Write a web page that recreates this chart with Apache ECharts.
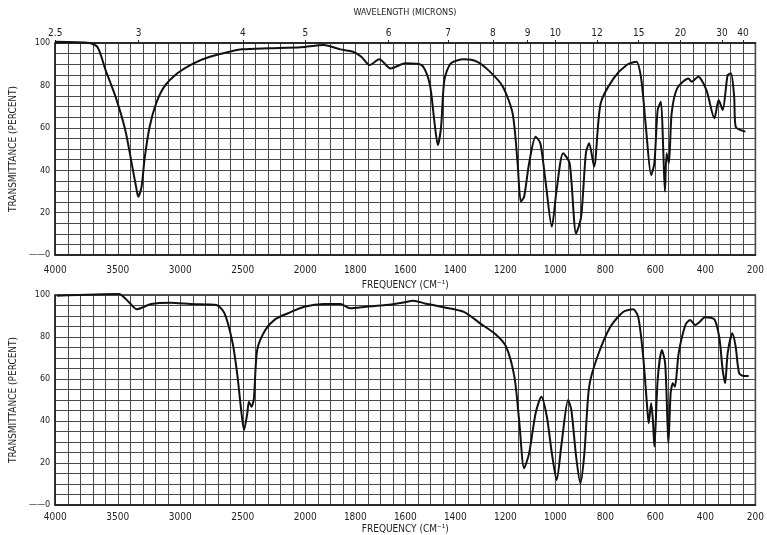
<!DOCTYPE html>
<html>
<head>
<meta charset="utf-8">
<script src="https://cdn.jsdelivr.net/npm/echarts@6/dist/echarts.min.js"></script>
<style>
  html, body { margin: 0; padding: 0; background: #fff; }
  #chart { width: 767px; height: 535px; }
</style>
</head>
<body>
<div id="chart"></div>
<script>
// tick labels
var freqLabels = [4000, 3500, 3000, 2500, 2000, 1800, 1600, 1400, 1200, 1000, 800, 600, 400, 200];
var micronLabels = [2.5, 3, 4, 5, 6, 7, 8, 9, 10, 12, 15, 20, 30, 40];
var percentLabels = [0, 20, 40, 60, 80, 100];

// upper spectrum (frequency cm-1, transmittance %)
var nuTop = [4000, 3727, 3661, 3596, 3518, 3440, 3388, 3349, 3336, 3310,
  3284, 3245, 3193, 3128, 3023, 2893, 2763, 2607, 2503, 2295,
  2034, 1926, 1860, 1809, 1776, 1743, 1704, 1659, 1600, 1535,
  1503, 1483, 1470, 1457, 1444, 1418, 1366, 1314, 1262, 1210,
  1171, 1151, 1138, 1125, 1105, 1079, 1060, 1040, 1014, 995,
  969, 943, 917, 897, 878, 865, 845, 819, 767, 715,
  676, 656, 637, 617, 604, 591, 578, 569, 562, 555,
  546, 535, 513, 468, 455, 429, 396, 364, 347, 331,
  311, 298, 285, 279, 240];
var transTop = [100.6, 100, 98, 87, 74.7, 59, 43, 30.7, 27.5, 32,
  46, 60.5, 71.5, 79.4, 85.7, 90.4, 93.5, 95.9, 97, 97.5,
  98, 99, 97, 95.9, 93.5, 89.6, 92.3, 88, 90.4, 89.6,
  81, 62.1, 51.9, 60.5, 82.5, 90.4, 92.3, 91.2, 86.5, 79.4,
  66.8, 43.3, 25.1, 27.5, 43.3, 55.8, 52.7, 35.4, 13.3, 30.7,
  48, 43.3, 10.2, 18, 48, 52.7, 41.7, 71.5, 83.3, 89.6,
  91.2, 82.5, 59, 37.7, 43.3, 68.4, 72.3, 51, 29.9, 48,
  43.3, 66.8, 78.6, 83.3, 81.7, 84.1, 77.8, 64.5, 73.1, 68.4,
  84.9, 85.7, 74.7, 60.5, 58.2];

// lower spectrum
var nuBot = [3987, 3492, 3414, 3349, 3232, 3076, 2919, 2711, 2646, 2581,
  2542, 2516, 2490, 2464, 2451, 2430, 2411, 2385, 2320, 2242,
  2138, 2008, 1926, 1860, 1821, 1757, 1678, 1613, 1568, 1522,
  1457, 1366, 1301, 1236, 1197, 1164, 1145, 1125, 1105, 1079,
  1056, 1034, 1014, 995, 975, 949, 936, 917, 900, 884,
  865, 832, 780, 728, 689, 669, 650, 633, 627, 617,
  610, 604, 591, 574, 561, 552, 548, 539, 530, 522,
  507, 480, 461, 441, 422, 402, 364, 344, 331, 321,
  311, 292, 279, 265, 246, 227];
var transBot = [99.7, 100.5, 96.8, 93.2, 95.7, 96.3, 95.7, 95.2, 91.3, 77,
  61.1, 46.8, 35.7, 43.7, 49.2, 46.8, 50.8, 73.8, 83.3, 88.4,
  91.3, 94.4, 95.7, 95.7, 93.7, 94.4, 95.2, 96.3, 97.3, 96,
  94.4, 92, 86.5, 81, 75.4, 61.1, 40.5, 17.5, 24.6, 43.7,
  51.6, 42, 24.6, 11.9, 29.4, 50, 45.2, 23, 10.3, 24.6,
  56.3, 70.6, 84.9, 92, 93.2, 89.7, 72.2, 46.8, 38.9, 48.4,
  40.5, 27.8, 59.5, 73.8, 67.5, 40.5, 29.4, 53.2, 58, 56.3,
  72.2, 85.7, 88.1, 85.7, 87.3, 89.4, 88.4, 79.4, 64.3, 58,
  72.2, 81.8, 75.4, 62.7, 61.4, 61.4];

// chart paper: 4000-2000 at one scale, 2000-200 at twice that scale
function nuToU(nu) { return nu >= 2000 ? 4000 - nu : 2000 + 2 * (2000 - nu); }
function uToNu(u) { return u <= 2000 ? 4000 - u : 2000 - (u - 2000) / 2; }

var font = '"DejaVu Sans Condensed", "Liberation Sans Narrow", sans-serif';
var ink = '#1e1e1e';
var gridColor = '#4a4a4a';

function pairs(nus, ts) {
  return nus.map(function (nu, i) { return [nuToU(nu), ts[i]]; });
}

function freqAxis(gridIndex, margin, nameGap) {
  return {
    type: 'value', gridIndex: gridIndex, min: 0, max: 5600, interval: 100,
    name: 'FREQUENCY (CM⁻¹)', nameLocation: 'middle', nameGap: nameGap,
    nameTextStyle: { fontFamily: font, fontSize: 10, color: ink },
    axisLine: { show: true, lineStyle: { color: ink, width: 1.5 } },
    axisTick: { show: false },
    axisLabel: {
      interval: 0, margin: margin, fontFamily: font, fontSize: 10, color: ink,
      formatter: function (v) {
        var nu = Math.round(uToNu(v));
        return freqLabels.indexOf(nu) >= 0 ? String(nu) : '';
      }
    },
    splitLine: { show: true, lineStyle: { color: gridColor, width: 1 } }
  };
}

function pctAxis(gridIndex) {
  return {
    type: 'value', gridIndex: gridIndex, min: 0, max: 100, interval: 5,
    name: 'TRANSMITTANCE (PERCENT)', nameLocation: 'middle', nameGap: 30,
    nameTextStyle: { fontFamily: font, fontSize: 10, color: ink },
    axisLine: { show: true, lineStyle: { color: ink, width: 1.5 } },
    axisTick: { show: false },
    axisLabel: {
      interval: 0, margin: 5, fontFamily: font, fontSize: 9, color: ink,
      formatter: function (v) {
        if (percentLabels.indexOf(v) < 0) return '';
        return v === 0 ? '——0' : String(v);
      }
    },
    splitLine: { show: true, lineStyle: { color: gridColor, width: 1 } }
  };
}

var chart = echarts.init(document.getElementById('chart'));
chart.setOption({
  backgroundColor: '#fff',
  animation: false,
  graphic: [{
    type: 'text', x: 405, y: 13,
    style: { text: 'WAVELENGTH (MICRONS)', fontFamily: font, fontSize: 9, fill: ink, align: 'center', verticalAlign: 'middle' }
  }],
  grid: [
    { left: 45, right: 5, top: 43, height: 212, show: true, borderColor: ink, borderWidth: 1.5 },
    { left: 46, right: 5, top: 295, height: 210, show: true, borderColor: ink, borderWidth: 1.5 }
  ],
  xAxis: [
    freqAxis(0, 10, 25),
    freqAxis(1, 7, 19),
    {
      type: 'value', gridIndex: 0, position: 'top', min: 0, max: 5600,
      axisLine: { show: true, lineStyle: { color: ink, width: 1.5 } },
      axisTick: { show: true, inside: false, length: 3, customValues: micronLabels.map(function (m) { return nuToU(10000 / m); }), lineStyle: { color: ink } },
      axisLabel: {
        margin: 5, fontFamily: font, fontSize: 10, color: ink,
        customValues: micronLabels.map(function (m) { return nuToU(10000 / m); }),
        formatter: function (v) {
          var m = 10000 / uToNu(v);
          return String(Math.round(m * 10) / 10);
        }
      },
      splitLine: { show: false }
    }
  ],
  yAxis: [pctAxis(0), pctAxis(1)],
  series: [
    {
      type: 'line', xAxisIndex: 0, yAxisIndex: 0, data: pairs(nuTop, transTop),
      showSymbol: false, smooth: 0.25, clip: false,
      lineStyle: { color: '#111', width: 2 }
    },
    {
      type: 'line', xAxisIndex: 1, yAxisIndex: 1, data: pairs(nuBot, transBot),
      showSymbol: false, smooth: 0.25, clip: false,
      lineStyle: { color: '#111', width: 2 }
    }
  ]
});
</script>
</body>
</html>
